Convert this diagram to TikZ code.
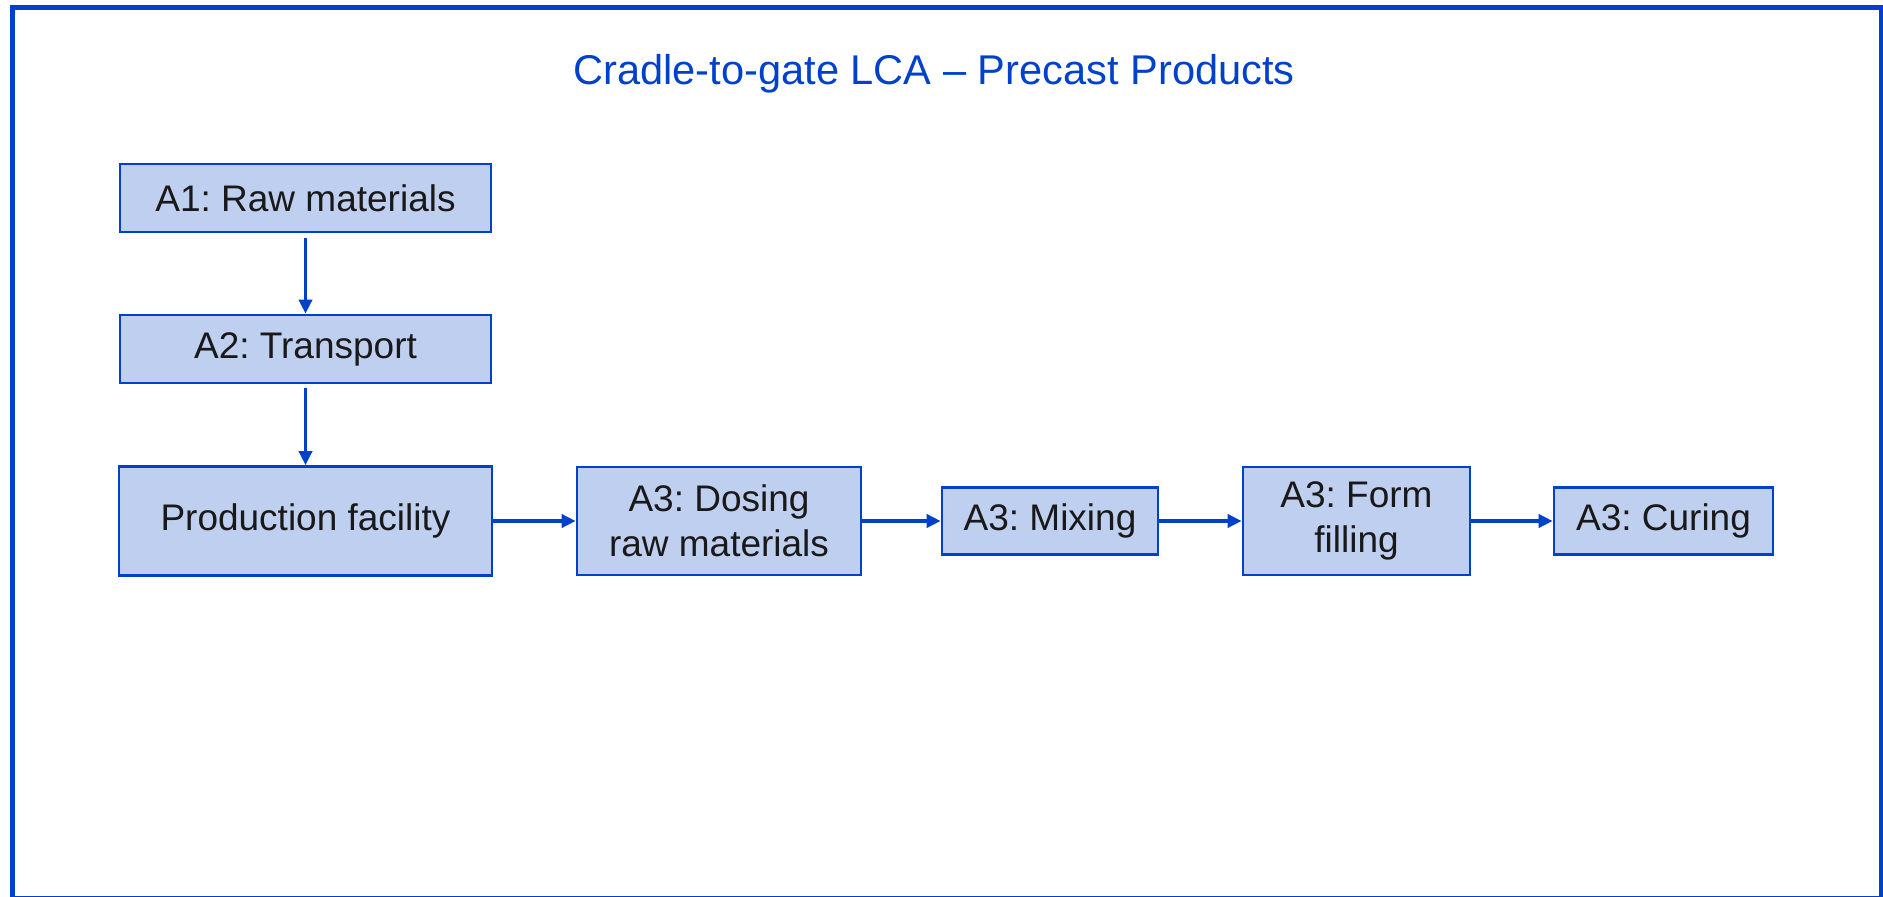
\documentclass[tikz,border=0pt]{standalone}
\usepackage{fontspec}
\setmainfont{Liberation Sans}
\usetikzlibrary{arrows.meta,positioning}
\definecolor{lcablue}{RGB}{0,65,204}
\definecolor{lcafill}{RGB}{191,207,240}
\definecolor{lcatext}{RGB}{25,25,25}
\frenchspacing

\begin{document}
\begin{tikzpicture}[x=0.5pt, y=-0.5pt,
    stage/.style={rectangle, draw=lcablue, fill=lcafill, line width=1.3pt, inner sep=0pt, align=center, text=lcatext, font=\fontsize{18.5}{22.5}\selectfont},
    flow/.style={-{Triangle[length=7pt,width=6.5pt]}, line width=1.8pt, lcablue}
]
\useasboundingbox (0,0) rectangle (1883,897);

% Frame
\draw[lcablue, line width=2.5pt] (12.5,8) rectangle (1881.5,898.5);

% Title
\node[anchor=base, text=lcablue, font=\fontsize{20.8}{25}\selectfont] (title) at (934,85) {Cradle-to-gate LCA -- Precast Products};

% Upstream stages (left column)
\node[stage, minimum width=185.5pt, minimum height=34pt] (raw) at (305.5,198) {A1: Raw materials};
\node[stage, minimum width=185.5pt, minimum height=34pt] (transport) at (305.5,349) {A2: Transport};
\node[stage, minimum width=186.5pt, minimum height=54.5pt] (facility) at (305.5,521) {Production facility};

% A3 production steps
\node[stage, minimum width=142pt, minimum height=54pt] (dosing) at (719,521) {A3: Dosing\\raw materials};
\node[stage, minimum width=108pt, minimum height=33.5pt] (mixing) at (1050,521) {A3: Mixing};
\node[stage, minimum width=113.5pt, minimum height=54pt] (filling) at (1356.5,521) {A3: Form\\filling};
\node[stage, minimum width=109.5pt, minimum height=33.5pt] (curing) at (1663.5,521) {A3: Curing};

% Flows
\draw[flow, shorten <=2.5pt] (raw) -- (transport);
\draw[flow, shorten <=2pt] (transport) -- (facility);
\draw[flow] (facility) -- (dosing);
\draw[flow] (dosing) -- (mixing);
\draw[flow] (mixing) -- (filling);
\draw[flow] (filling) -- (curing);

\end{tikzpicture}
\end{document}
